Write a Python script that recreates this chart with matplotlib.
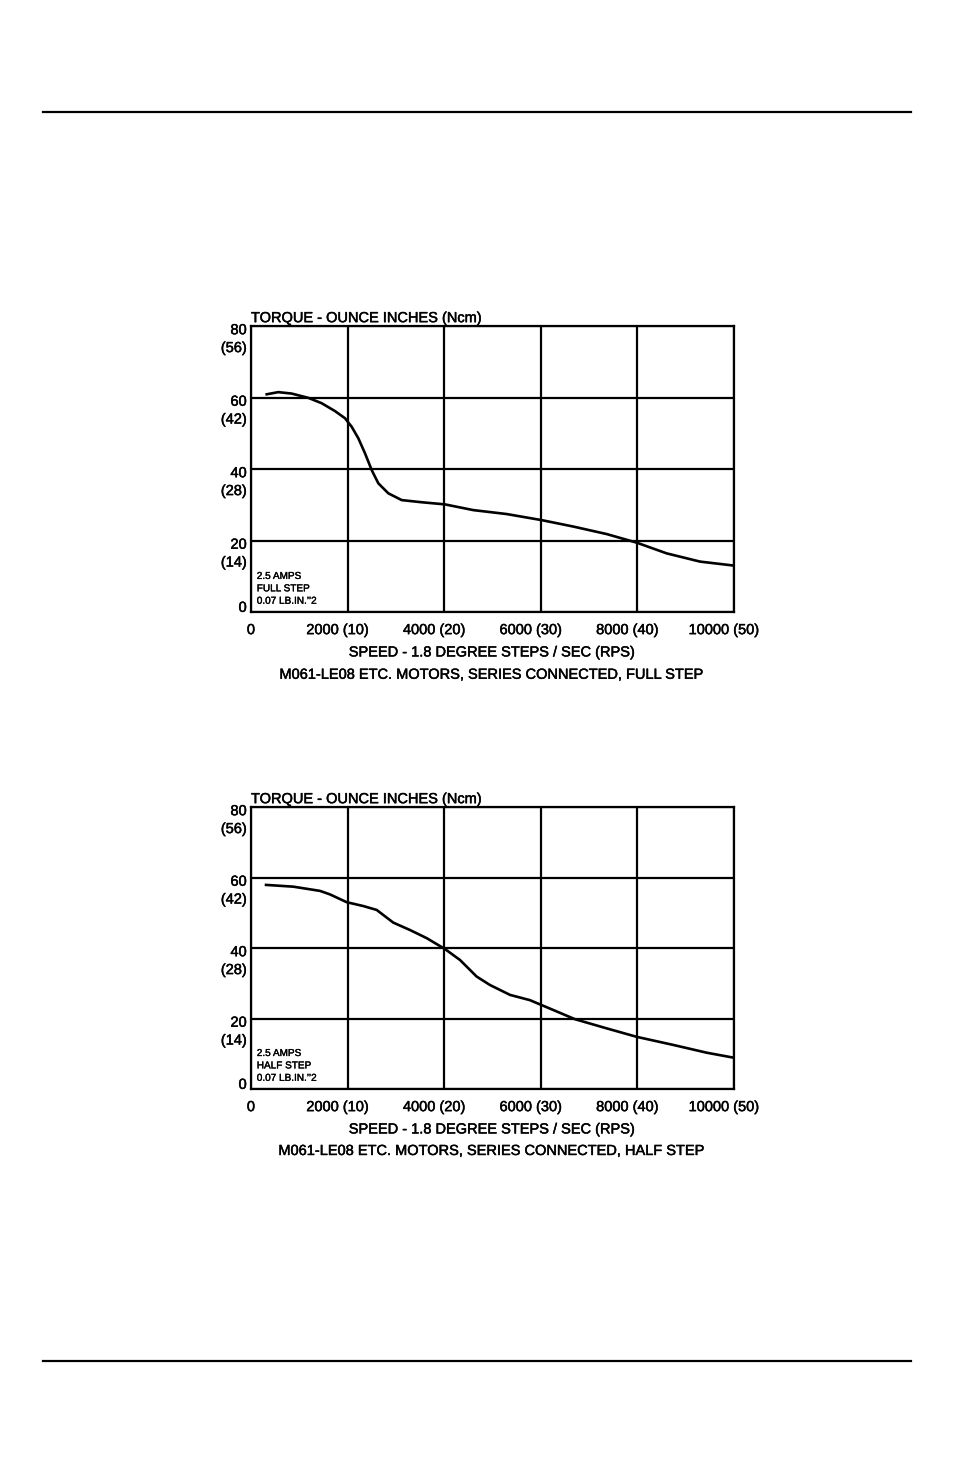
import numpy as np
import matplotlib.pyplot as plt
import matplotlib.patheffects as pe
from matplotlib.transforms import ScaledTranslation

plt.rcParams['font.family'] = ['Liberation Sans', 'DejaVu Sans']

# speed in steps/sec, torque in oz-in
full_speed = [325, 565, 842, 1187, 1463, 1739, 1946, 2085, 2222, 2360, 2499, 2636,
              2843, 3120, 3534, 4017, 4603, 5293, 6018, 6673, 7364, 7985, 8606,
              9296, 9986]
full_torque = [60.9, 61.5, 61.1, 59.9, 58.4, 56.2, 54.2, 51.8, 48.6, 44.4, 39.7, 36.0,
               33.2, 31.3, 30.7, 30.1, 28.5, 27.4, 25.7, 23.9, 21.8, 19.4, 16.4,
               14.1, 13.0]

half_speed = [311, 876, 1429, 1636, 1981, 2325, 2602, 2946, 3292, 3637, 4017, 4327,
              4672, 4948, 5362, 5776, 6018, 6398, 6708, 7364, 7985, 8743, 9434, 9986]
half_torque = [57.9, 57.4, 56.2, 55.2, 53.0, 51.9, 50.8, 47.2, 45.1, 42.8, 39.7, 36.6,
               31.9, 29.5, 26.7, 25.2, 23.8, 21.6, 19.8, 17.2, 14.8, 12.5, 10.3, 8.9]

x_ticks = [0, 2000, 4000, 6000, 8000, 10000]
x_labels = ['0', '2000 (10)', '4000 (20)', '6000 (30)', '8000 (40)', '10000 (50)']
y_ticks = [0, 20, 40, 60, 80]
y_labels = ['0', '20\n(14)', '40\n(28)', '60\n(42)', '80\n(56)']

charts = [
    (full_speed, full_torque, 'FULL STEP', 'M061-LE08 ETC. MOTORS, SERIES CONNECTED, FULL STEP'),
    (half_speed, half_torque, 'HALF STEP', 'M061-LE08 ETC. MOTORS, SERIES CONNECTED, HALF STEP'),
]

W, H = 954, 1474
fig = plt.figure(figsize=(W / 100, H / 100), dpi=100)

# slightly heavier text, like the scanned original
heavy = [pe.withStroke(linewidth=0.35, foreground='black')]

# page rules
for yy in (112, 1361):
    fig.add_artist(plt.Line2D([43 / W, 911 / W], [1 - yy / H, 1 - yy / H],
                              color='black', lw=1.6))

boxes = [(326, 612), (807, 1089)]

for (spd, trq, mode, caption), (top, bot) in zip(charts, boxes):
    ax = fig.add_axes([251 / W, 1 - bot / H, (734 - 251) / W, (bot - top) / H])
    ax.plot(spd, trq, color='black', lw=1.9, solid_joinstyle='round')
    ax.set_xlim(0, 10000)
    ax.set_ylim(0, 80)
    ax.set_xticks(x_ticks)
    ax.set_xticklabels(x_labels, fontsize=10.5)
    ax.set_yticks(y_ticks)
    ax.set_yticklabels(y_labels, fontsize=10.5, linespacing=1.35)
    ax.tick_params(length=0, pad=3)
    ax.tick_params(axis='x', pad=8)
    ax.grid(True, color='black', lw=1.6)
    for s in ax.spines.values():
        s.set_linewidth(1.6)

    for i, lab in enumerate(ax.get_yticklabels()):
        lab.set_path_effects(heavy)
        if i == 0:
            lab.set_va('center')
            lab.set_transform(lab.get_transform() + ScaledTranslation(0, 3 / 72, fig.dpi_scale_trans))
        else:
            lab.set_va('top')
            lab.set_transform(lab.get_transform() + ScaledTranslation(0, 2 / 72, fig.dpi_scale_trans))
    for i, lab in enumerate(ax.get_xticklabels()):
        lab.set_path_effects(heavy)
        if i > 0:
            lab.set_transform(lab.get_transform() + ScaledTranslation(-7 / 72, 0, fig.dpi_scale_trans))

    ax.text(0, 1.003, 'TORQUE - OUNCE INCHES (Ncm)', transform=ax.transAxes,
            fontsize=10.5, ha='left', va='bottom', path_effects=heavy)
    ax.text(0.012, 0.022, '2.5 AMPS\n' + mode + '\n0.07 LB.IN.\u2019\u20192', transform=ax.transAxes,
            fontsize=7.2, ha='left', va='bottom', linespacing=1.3,
            path_effects=[pe.withStroke(linewidth=0.25, foreground='black')])
    ax.set_xlabel('SPEED - 1.8 DEGREE STEPS / SEC (RPS)', fontsize=10.5, labelpad=6,
                  path_effects=heavy)
    ax.text(0.5, -0.195, caption, transform=ax.transAxes, fontsize=10.5,
            ha='center', va='top', path_effects=heavy)

fig.savefig('out.png', dpi=100)
